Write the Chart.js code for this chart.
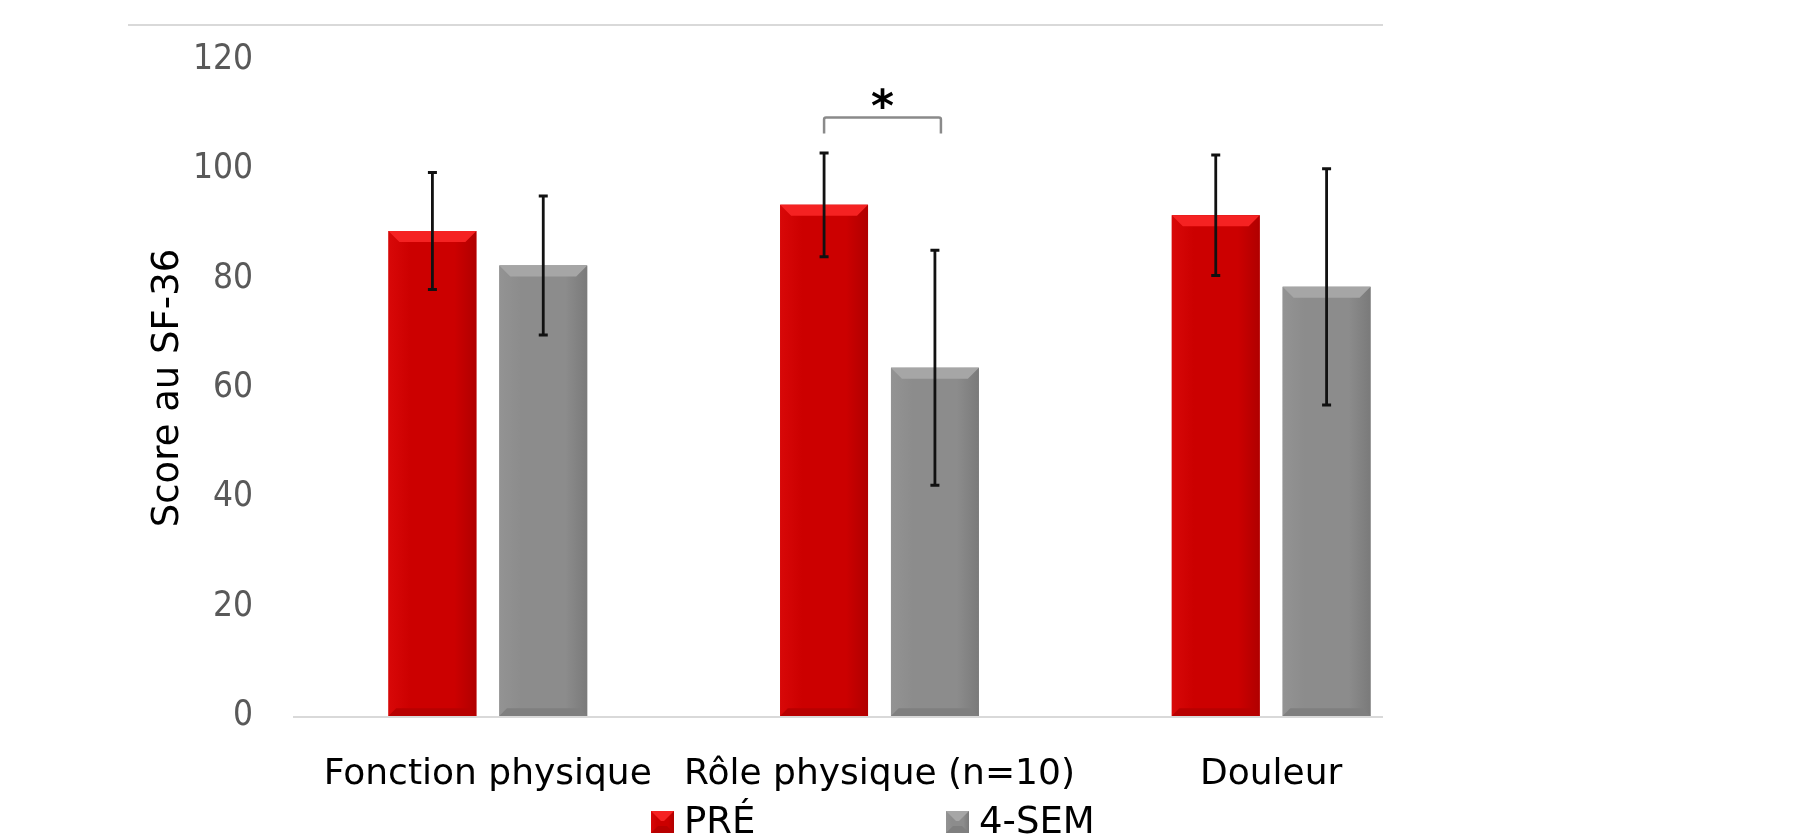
<!DOCTYPE html>
<html><head><meta charset="utf-8">
<script src="https://cdn.jsdelivr.net/npm/chart.js@4.4.1/dist/chart.umd.min.js"></script>
<style>html,body{margin:0;padding:0;background:#fff;overflow:hidden}
#wrap{position:absolute;left:0;top:0;width:1676px;height:838px}</style>
</head><body><div id="wrap"><canvas id="c"></canvas></div>
<script>
const categories = ['Fonction physique', 'Rôle physique (n=10)', 'Douleur'];
const seriesNames = ['PRÉ', '4-SEM'];
const preValues = [88.7, 93.5, 91.6];
const preErrors = [10.7, 9.5, 11.0];
const semValues = [82.4, 63.7, 78.5];
const semErrors = [12.7, 21.5, 21.6];
const yTicks = [0, 20, 40, 60, 80, 100, 120];
const sigCategory = [1];
const sigLevel = [109.5];
const sigLabel = ['*'];
const yTitle = 'Score au SF-36';

const FONT = "'DejaVu Sans', sans-serif";
const FONT_C = "'DejaVu Sans Condensed', 'DejaVu Sans', sans-serif";
const seriesStyle = [
  {base: '#cc0000', light: '#f52222', edgeL: '#d80808', edgeR: '#b00000', bottom: '#b80000'},
  {base: '#8c8c8c', light: '#a6a6a6', edgeL: '#939393', edgeR: '#7a7a7a', bottom: '#7f7f7f'}
];

function bevelRect(ctx, l, t, r, b, st, bev) {
  const g = ctx.createLinearGradient(l, 0, r, 0);
  g.addColorStop(0, st.edgeL); g.addColorStop(0.25, st.base);
  g.addColorStop(0.75, st.base); g.addColorStop(1, st.edgeR);
  ctx.fillStyle = g; ctx.fillRect(l, t, r - l, b - t);
  const bt = Math.min(bev, (b - t) / 2);
  ctx.fillStyle = st.light;
  ctx.beginPath(); ctx.moveTo(l, t); ctx.lineTo(r, t); ctx.lineTo(r - bt, t + bt); ctx.lineTo(l + bt, t + bt); ctx.closePath(); ctx.fill();
  const bb = Math.min(bev * 0.7, (b - t) / 2);
  ctx.fillStyle = st.bottom;
  ctx.beginPath(); ctx.moveTo(l, b); ctx.lineTo(r, b); ctx.lineTo(r - bb, b - bb); ctx.lineTo(l + bb, b - bb); ctx.closePath(); ctx.fill();
}

const decor = {
  id: 'decor',
  beforeDatasetsDraw(chart) {
    const ctx = chart.ctx, a = chart.chartArea;
    ctx.save();
    ctx.strokeStyle = '#d9d9d9'; ctx.lineWidth = 2;
    ctx.beginPath(); ctx.moveTo(128, 25); ctx.lineTo(1383, 25); ctx.stroke();
    ctx.beginPath(); ctx.moveTo(a.left + 1, a.bottom + 1); ctx.lineTo(1383, a.bottom + 1); ctx.stroke();
    ctx.restore();
  },
  afterDatasetsDraw(chart) {
    const ctx = chart.ctx, ys = chart.scales.y;
    ctx.save();
    chart.data.datasets.forEach((ds, di) => {
      const meta = chart.getDatasetMeta(di);
      meta.data.forEach((bar) => {
        const p = bar.getProps(['x', 'y', 'base', 'width'], true);
        bevelRect(ctx, p.x - p.width / 2, p.y, p.x + p.width / 2, p.base, seriesStyle[di], 11);
      });
    });
    // error bars
    chart.data.datasets.forEach((ds, di) => {
      const meta = chart.getDatasetMeta(di);
      meta.data.forEach((bar, i) => {
        const v = ds.data[i], e = ds.errors[i];
        const yt = ys.getPixelForValue(v + e), yb = ys.getPixelForValue(v - e);
        ctx.strokeStyle = '#111'; ctx.lineWidth = 2.8;
        ctx.beginPath(); ctx.moveTo(bar.x, yt); ctx.lineTo(bar.x, yb); ctx.stroke();
        ctx.lineWidth = 3;
        ctx.beginPath(); ctx.moveTo(bar.x - 4.5, yt); ctx.lineTo(bar.x + 4.5, yt);
        ctx.moveTo(bar.x - 4.5, yb); ctx.lineTo(bar.x + 4.5, yb); ctx.stroke();
      });
    });
    // significance bracket
    sigCategory.forEach((ci, k) => {
      const x1 = chart.getDatasetMeta(0).data[ci].x;
      const x2 = chart.getDatasetMeta(1).data[ci].x + 6;
      const y = ys.getPixelForValue(sigLevel[k]);
      ctx.strokeStyle = '#8a8a8a'; ctx.lineWidth = 2.5; ctx.lineJoin = 'round';
      ctx.beginPath(); ctx.moveTo(x1, y + 16); ctx.lineTo(x1, y + 2); ctx.quadraticCurveTo(x1, y, x1 + 2, y);
      ctx.lineTo(x2 - 2, y); ctx.quadraticCurveTo(x2, y, x2, y + 2); ctx.lineTo(x2, y + 16); ctx.stroke();
      ctx.fillStyle = '#000'; ctx.font = 'bold 44px ' + FONT; ctx.textAlign = 'center'; ctx.textBaseline = 'middle';
      ctx.fillText(sigLabel[k], (x1 + x2) / 2, y - 8);
    });
    // legend
    const legendX = [651, 946];
    chart.data.datasets.forEach((ds, di) => {
      const lx = legendX[di], ly = 822;
      bevelRect(ctx, lx, ly - 11, lx + 23, ly + 11, seriesStyle[di], 10);
      ctx.fillStyle = '#000'; ctx.font = '37px ' + FONT; ctx.textAlign = 'left'; ctx.textBaseline = 'middle';
      ctx.fillText(ds.label, lx + 33, ly + 1);
    });
    ctx.restore();
  }
};

new Chart(document.getElementById('c'), {
  type: 'bar',
  data: {
    labels: categories,
    datasets: [
      {label: seriesNames[0], data: preValues, errors: preErrors, backgroundColor: seriesStyle[0].base, borderWidth: 0},
      {label: seriesNames[1], data: semValues, errors: semErrors, backgroundColor: seriesStyle[1].base, borderWidth: 0}
    ]
  },
  options: {
    responsive: true, maintainAspectRatio: false, animation: false,
    layout: {padding: {top: 58, right: 209, bottom: 0, left: 0}},
    datasets: {bar: {categoryPercentage: 0.566, barPercentage: 0.793}},
    plugins: {legend: {display: false}, tooltip: {enabled: false}},
    scales: {
      x: {
        grid: {display: false, drawTicks: false}, border: {display: false},
        ticks: {color: '#000', font: {family: FONT, size: 36, lineHeight: 1}, padding: 41, maxRotation: 0, autoSkip: false},
        afterFit: s => { s.height = 122; }
      },
      y: {
        min: 0, max: 120,
        afterBuildTicks: s => { s.ticks = yTicks.map(v => ({value: v})); },
        grid: {display: false, drawTicks: false}, border: {display: false},
        ticks: {color: '#595959', font: {family: FONT_C, size: 35}, padding: 39},
        title: {display: true, text: yTitle, color: '#000', font: {family: FONT, size: 37, lineHeight: 1}, padding: {top: 150, bottom: 0}},
        afterFit: s => { s.width = 292; }
      }
    }
  },
  plugins: [decor]
});
</script></body></html>
